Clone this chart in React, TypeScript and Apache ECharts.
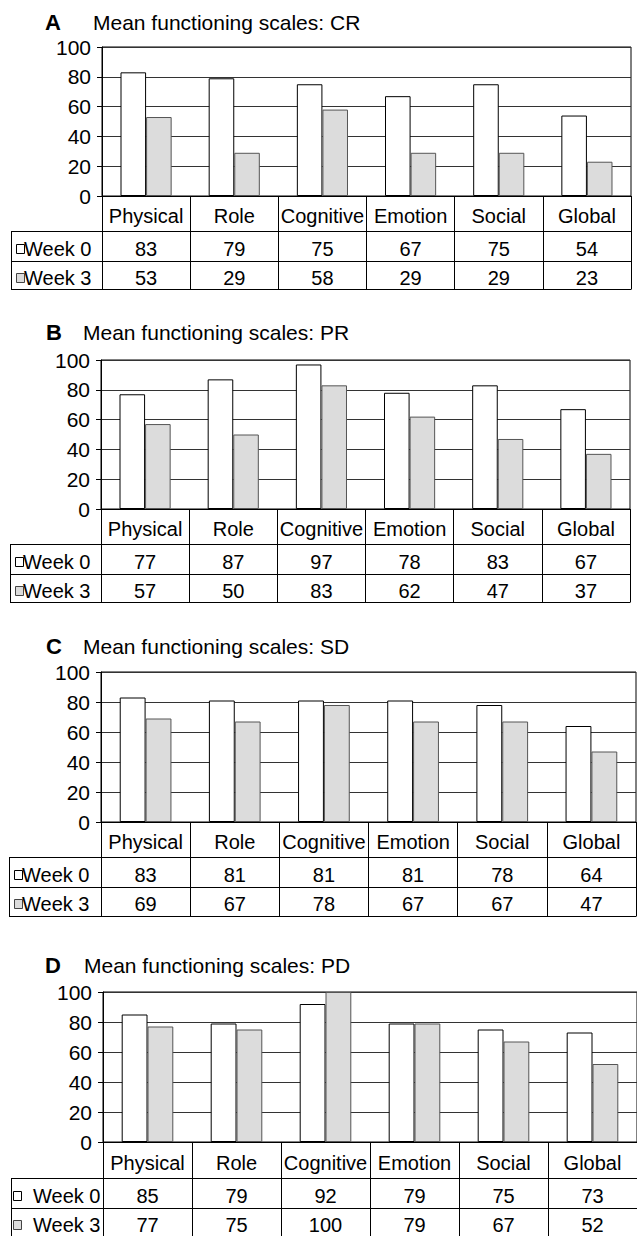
import React, { useEffect, useRef } from 'react';
import * as echarts from 'echarts';

const CATEGORIES = ['Physical', 'Role', 'Cognitive', 'Emotion', 'Social', 'Global'];
const SERIES_NAMES = ['Week 0', 'Week 3'];

const CR_WEEK0 = [83, 79, 75, 67, 75, 54];
const CR_WEEK3 = [53, 29, 58, 29, 29, 23];
const PR_WEEK0 = [77, 87, 97, 78, 83, 67];
const PR_WEEK3 = [57, 50, 83, 62, 47, 37];
const SD_WEEK0 = [83, 81, 81, 81, 78, 64];
const SD_WEEK3 = [69, 67, 78, 67, 67, 47];
const PD_WEEK0 = [85, 79, 92, 79, 75, 73];
const PD_WEEK3 = [77, 75, 100, 79, 67, 52];

const Y_MIN = 0;
const Y_MAX = 100;
const Y_STEP = 20;

const FONT = '"Liberation Sans", Arial, Helvetica, sans-serif';

const PANELS = [
  { letter: 'A', group: 'CR', week0: CR_WEEK0, week3: CR_WEEK3, left: 102, top: 47, width: 529, height: 149, rows: [35, 30, 28], titleY: 22, letterX: 45, titleX: 93, legendX: 11, markerX: 16, labelX: 24 },
  { letter: 'B', group: 'PR', week0: PR_WEEK0, week3: PR_WEEK3, left: 101, top: 360, width: 529, height: 149, rows: [35, 30, 28], titleY: 332, letterX: 46, titleX: 83, legendX: 10, markerX: 15, labelX: 23 },
  { letter: 'C', group: 'SD', week0: SD_WEEK0, week3: SD_WEEK3, left: 101, top: 672, width: 535, height: 150, rows: [35, 30, 29], titleY: 646, letterX: 46, titleX: 83, legendX: 9, markerX: 14, labelX: 22 },
  { letter: 'D', group: 'PD', week0: PD_WEEK0, week3: PD_WEEK3, left: 103, top: 992, width: 537, height: 150, rows: [36, 30, 29], titleY: 965, letterX: 45, titleX: 84, legendX: 11, markerX: 13, labelX: 33 },
];

export default function App() {
  const ref = useRef<HTMLDivElement>(null);
  useEffect(() => {
    const chart = echarts.init(ref.current!, null, { renderer: 'svg' });
    const grids: any[] = [];
    const xAxes: any[] = [];
    const yAxes: any[] = [];
    const series: any[] = [];
    const graphics: any[] = [];
    const textStyle = { color: '#000', fontSize: 20, fontFamily: FONT };

    PANELS.forEach((p, i) => {
      const bottom = p.top + p.height;
      const r0 = bottom + p.rows[0];
      const r1 = r0 + p.rows[1];
      const r2 = r1 + p.rows[2];
      const right = p.left + p.width;
      const base = xAxes.length;
      grids.push({ left: p.left, top: p.top, width: p.width, height: p.height, show: true, borderColor: '#000', borderWidth: 1 });
      xAxes.push({
        type: 'category', gridIndex: i, data: CATEGORIES, position: 'bottom', boundaryGap: true,
        axisLine: { show: true, lineStyle: { color: '#000', width: 1 } },
        axisTick: { show: true, interval: 0, inside: false, length: p.rows[0] + p.rows[1] + p.rows[2], lineStyle: { color: '#000', width: 1 } },
        axisLabel: { interval: 0, margin: p.rows[0] / 2 - 7.5, ...textStyle },
        splitLine: { show: false },
      });
      [p.week0, p.week3].forEach((vals, k) => {
        xAxes.push({
          type: 'category', gridIndex: i, data: vals.map(String), position: 'bottom', boundaryGap: true,
          offset: k === 0 ? p.rows[0] : p.rows[0] + p.rows[1],
          axisLine: { show: false }, axisTick: { show: false },
          axisLabel: { interval: 0, margin: p.rows[k + 1] / 2 - 7.5, ...textStyle },
          splitLine: { show: false },
        });
      });
      yAxes.push({
        type: 'value', gridIndex: i, min: Y_MIN, max: Y_MAX, interval: Y_STEP,
        axisLine: { show: true, lineStyle: { color: '#000', width: 1 } },
        axisTick: { show: true, length: 5, lineStyle: { color: '#000', width: 1 } },
        axisLabel: { margin: 11, color: '#000', fontSize: 21, fontFamily: FONT },
        splitLine: { show: true, lineStyle: { color: '#333', width: 1 } },
      });
      series.push({
        type: 'bar', name: SERIES_NAMES[0], xAxisIndex: base, yAxisIndex: i, data: p.week0,
        barGap: '0%', barCategoryGap: '42%',
        itemStyle: { color: '#ffffff', borderColor: '#000', borderWidth: 1 },
      });
      series.push({
        type: 'bar', name: SERIES_NAMES[1], xAxisIndex: base, yAxisIndex: i, data: p.week3,
        barGap: '0%', barCategoryGap: '42%',
        itemStyle: { color: '#dcdcdc', borderColor: '#555', borderWidth: 1 },
      });

      graphics.push({ type: 'text', x: p.letterX, y: p.titleY, style: { text: p.letter, fontSize: 22, fontWeight: 'bold', fontFamily: FONT, fill: '#000', verticalAlign: 'middle' } });
      graphics.push({ type: 'text', x: p.titleX, y: p.titleY, style: { text: 'Mean functioning scales: ' + p.group, fontSize: 21, fontFamily: FONT, fill: '#000', verticalAlign: 'middle' } });
      [r0, r1, r2].forEach((yy) => {
        graphics.push({ type: 'line', shape: { x1: p.legendX, y1: yy + 0.5, x2: right + 0.5, y2: yy + 0.5 }, style: { stroke: '#000', lineWidth: 1 } });
      });
      graphics.push({ type: 'line', shape: { x1: p.legendX + 0.5, y1: r0, x2: p.legendX + 0.5, y2: r2 }, style: { stroke: '#000', lineWidth: 1 } });
      [[r0, r1, '#ffffff'], [r1, r2, '#dcdcdc']].forEach(([a, b, fill]: any, k) => {
        const c = (a + b) / 2;
        graphics.push({ type: 'rect', shape: { x: p.markerX + 0.5, y: Math.round(c - 2.5) + 0.5, width: 8, height: 9 }, style: { fill, stroke: k === 0 ? '#000' : '#444', lineWidth: 1 } });
        graphics.push({ type: 'text', x: p.labelX, y: c + 2.5, style: { text: SERIES_NAMES[k], fontSize: 20, fontFamily: FONT, fill: '#000', verticalAlign: 'middle' } });
      });
    });

    chart.setOption({
      animation: false,
      backgroundColor: '#fff',
      grid: grids,
      xAxis: xAxes,
      yAxis: yAxes,
      series,
      graphic: graphics,
    });
    return () => chart.dispose();
  }, []);
  return <div ref={ref} style={{ position: 'absolute', left: 0, top: 0, width: 637, height: 1236 }} />;
}
